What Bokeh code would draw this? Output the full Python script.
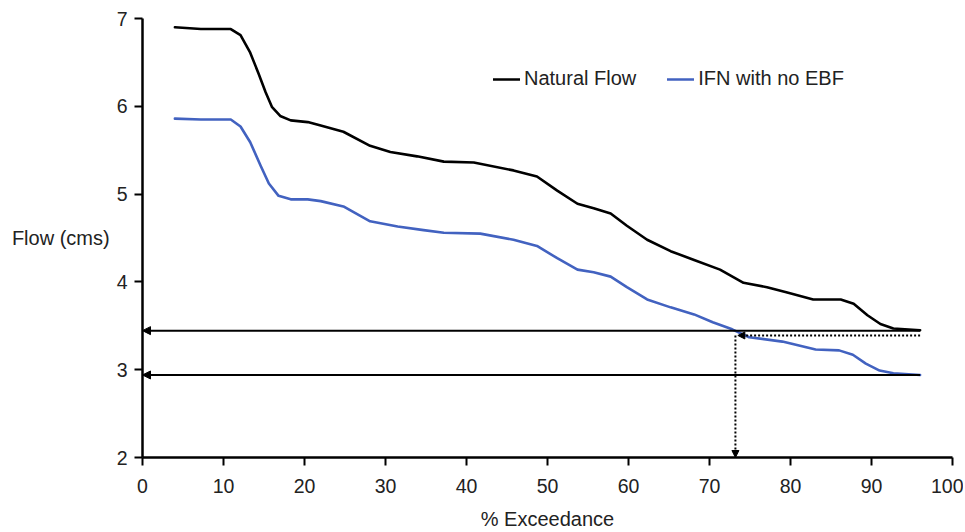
from bokeh.plotting import figure
from bokeh.models import Arrow, NormalHead, Legend, LegendItem, FixedTicker, ColumnDataSource
from bokeh.embed import file_html
from bokeh.resources import INLINE

# Data
natural_x = [4, 7.2, 10.9, 12.1, 13.3, 14.3, 15.2, 16.0, 17.0, 18.3, 20.4, 22, 24.8,
             28.1, 30.6, 33.9, 37.2, 40.9, 45.8, 48.7, 51.2, 53.7, 55.7, 57.8, 59.8,
             62.3, 65.2, 68.1, 71.3, 74.2, 77.1, 79.6, 82.8, 86.2, 87.8, 89.5, 91.1,
             92.7, 96]
natural_y = [6.90, 6.88, 6.88, 6.81, 6.61, 6.38, 6.16, 5.99, 5.89, 5.84, 5.82, 5.78,
             5.71, 5.55, 5.48, 5.43, 5.37, 5.36, 5.27, 5.20, 5.04, 4.89, 4.84, 4.78,
             4.64, 4.48, 4.35, 4.25, 4.14, 3.99, 3.94, 3.88, 3.80, 3.80, 3.75, 3.62,
             3.52, 3.47, 3.45]

ifn_x = [4, 7.2, 10.9, 12.1, 13.3, 14.6, 15.6, 16.8, 18.3, 20.4, 22, 24.8, 28.1,
         31.5, 34.7, 37.2, 41.7, 45.8, 48.7, 51.2, 53.7, 55.7, 57.8, 59.8, 62.3,
         65.2, 68.1, 70.4, 72.8, 74.9, 79, 83.1, 86, 87.7, 89.3, 91, 92.7, 96]
ifn_y = [5.86, 5.85, 5.85, 5.77, 5.59, 5.32, 5.12, 4.98, 4.94, 4.94, 4.92, 4.86,
         4.69, 4.63, 4.59, 4.56, 4.55, 4.48, 4.41, 4.27, 4.14, 4.11, 4.06, 3.94,
         3.80, 3.71, 3.63, 3.54, 3.46, 3.37, 3.32, 3.23, 3.22, 3.17, 3.07, 2.99,
         2.96, 2.94]

x_ticks = [0, 10, 20, 30, 40, 50, 60, 70, 80, 90, 100]
y_ticks = [2, 3, 4, 5, 6, 7]

natural_min = 3.445    # flow level of solid upper arrow
ifn_min = 2.94         # flow level of solid lower arrow
dotted_level = 3.39    # dotted reference level
crossing_x = 73.2      # % exceedance where IFN meets natural minimum
end_x = 96

FONT = "Liberation Sans"
TXT = "#222222"
BLUE = "#4262c0"

p = figure(width=963, height=532, x_range=(0, 100), y_range=(2, 7),
           output_backend="svg", toolbar_location=None,
           min_border_left=142, min_border_right=11, min_border_top=18,
           min_border_bottom=70)
p.outline_line_color = None
p.xgrid.visible = False
p.ygrid.visible = False
p.background_fill_color = "white"

r_nat = p.line(natural_x, natural_y, line_color="#000000", line_width=2.6,
               line_join="round", line_cap="round")
r_ifn = p.line(ifn_x, ifn_y, line_color=BLUE, line_width=2.6,
               line_join="round", line_cap="round")

# Solid arrows to y-axis
solid = ColumnDataSource(dict(xs=[end_x, end_x], ys=[natural_min, ifn_min],
                              xe=[0, 0], ye=[natural_min, ifn_min]))
p.add_layout(Arrow(x_start="xs", y_start="ys", x_end="xe", y_end="ye", source=solid,
                   line_color="black", line_width=2,
                   end=NormalHead(size=8, fill_color="black", line_color="black", line_width=1)))

# Dotted arrows
p.add_layout(Arrow(x_start=end_x, y_start=dotted_level, x_end=crossing_x + 0.3, y_end=dotted_level,
                   line_color="black", line_width=2, line_dash="2 2",
                   end=NormalHead(size=7, fill_color="black", line_color="black", line_width=1)))
p.add_layout(Arrow(x_start=crossing_x, y_start=dotted_level, x_end=crossing_x, y_end=2.0,
                   line_color="black", line_width=2, line_dash="2 2",
                   end=NormalHead(size=7, fill_color="black", line_color="black", line_width=1)))

for ax in (p.xaxis[0], p.yaxis[0]):
    ax.axis_line_width = 2.5
    ax.axis_line_color = "black"
    ax.major_tick_line_width = 2
    ax.major_tick_line_color = "black"
    ax.major_tick_in = 0
    ax.major_tick_out = 8
    ax.minor_tick_line_color = None
    ax.major_label_text_font = FONT
    ax.major_label_text_font_size = "19.5px"
    ax.major_label_text_color = TXT
    ax.major_label_text_line_height = 1.0
    ax.axis_label_text_font = FONT
    ax.axis_label_text_font_size = "20px"
    ax.axis_label_text_font_style = "normal"
    ax.axis_label_text_color = TXT
    ax.axis_label_text_line_height = 1.0

p.xaxis.ticker = FixedTicker(ticks=x_ticks)
p.yaxis.ticker = FixedTicker(ticks=y_ticks)
p.xaxis.axis_label = "% Exceedance"
p.yaxis.axis_label = "Flow (cms)"
p.yaxis.axis_label_orientation = "horizontal"
p.xaxis.major_label_standoff = 13
p.yaxis.major_label_standoff = 7
p.xaxis.axis_label_standoff = 12
p.yaxis.axis_label_standoff = 4

legend = Legend(items=[LegendItem(label="Natural Flow", renderers=[r_nat]),
                       LegendItem(label="IFN with no EBF", renderers=[r_ifn])],
                location=(351, 367), orientation="horizontal",
                padding=0, margin=0, spacing=31, glyph_width=27, glyph_height=20,
                label_standoff=4, label_text_font=FONT, label_text_font_size="20px",
                label_text_color=TXT, border_line_alpha=0, background_fill_alpha=0)
p.add_layout(legend)

open("out.html", "w").write(file_html(p, INLINE))
